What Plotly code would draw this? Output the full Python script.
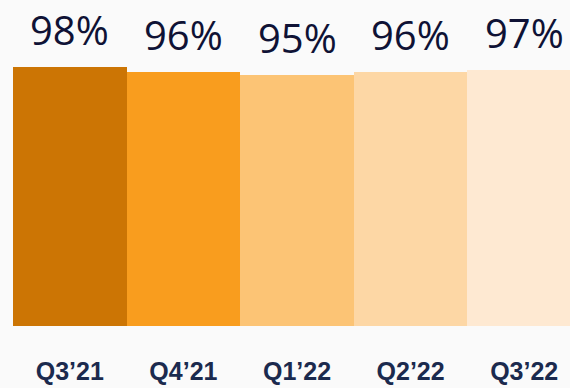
import plotly.graph_objects as go

# Quarterly share values
quarters = ["Q3\u201921", "Q4\u201921", "Q1\u201922", "Q2\u201922", "Q3\u201922"]
shares = [98, 96, 95, 96, 97]
bar_colors = ["#CC7504", "#F99D1E", "#FCC475", "#FDD7A5", "#FEE9D2"]

fig = go.Figure(
    go.Bar(
        x=list(range(len(quarters))),
        y=shares,
        marker=dict(color=bar_colors, line=dict(width=0)),
        hoverinfo="skip",
    )
)

# Percentage labels above each bar
for i, v in enumerate(shares):
    fig.add_annotation(
        x=i, y=v, text=f"{v}%", showarrow=False,
        yanchor="bottom", yshift=8,
        font=dict(family="Open Sans", size=40, color="#0F1235"),
    )

fig.update_layout(
    width=570, height=388,
    margin=dict(l=13, r=0, t=0, b=62),
    paper_bgcolor="#FAFAFA", plot_bgcolor="#FAFAFA",
    bargap=0, showlegend=False,
    xaxis=dict(
        range=[-0.5, 4.403],
        tickmode="array",
        tickvals=list(range(len(quarters))),
        ticktext=quarters,
        tickfont=dict(family="Liberation Sans", size=25, color="#1B2A4E", weight="bold"),
        ticks="", showgrid=False, zeroline=False, showline=False,
        ticklabelstandoff=28, automargin=False,
    ),
    yaxis=dict(range=[0, 123.3], visible=False, automargin=False),
)

fig.write_html("out.html")
